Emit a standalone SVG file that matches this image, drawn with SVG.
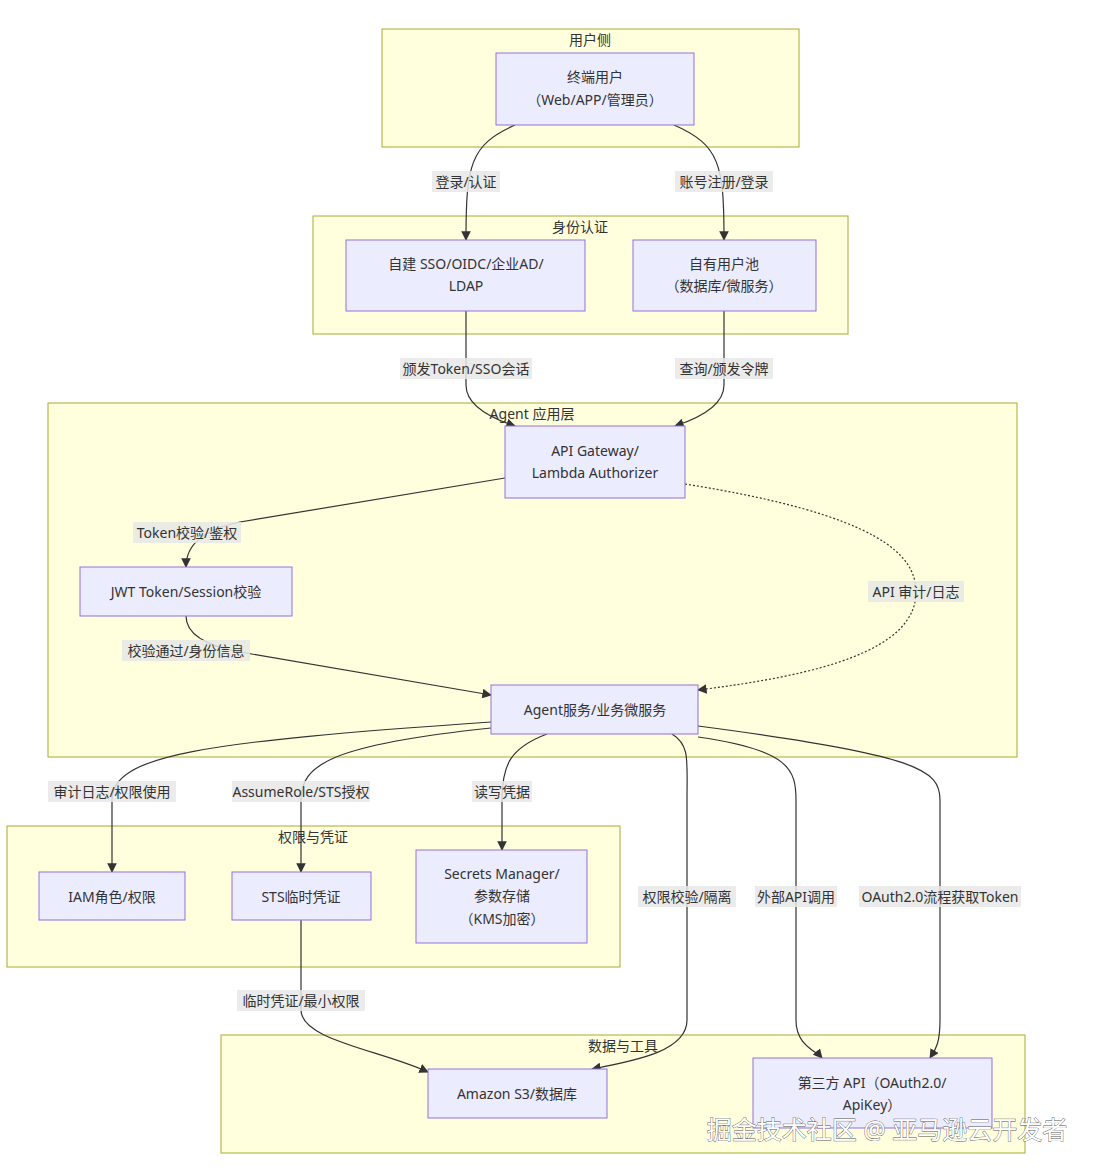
<svg xmlns="http://www.w3.org/2000/svg" width="1098" height="1175" viewBox="0 0 1098 1175">
<defs>
<marker id="ah" viewBox="0 0 10 10" refX="9" refY="5" markerWidth="8" markerHeight="8" orient="auto"><path d="M0,0 L10,5 L0,10 z" fill="#333"/></marker>
<style>
.cl{fill:#ffffde;stroke:#aaaa33;stroke-width:1}
.nd{fill:#ececff;stroke:#9370db;stroke-width:1}
text{font-family:"Noto Sans","Noto Sans CJK SC",sans-serif;font-size:14px;fill:#333;text-anchor:middle}
.e{fill:none;stroke:#333;stroke-width:1.2;marker-end:url(#ah)}
.lb{fill:#e8e8e8;opacity:0.85}
</style>
</defs>
<rect width="1098" height="1175" fill="#fff"/>
<g id="clusters">
<rect class="cl" x="382" y="29" width="417" height="118"/><text x="590" y="45">用户侧</text>
<rect class="cl" x="313" y="216" width="535" height="118"/><text x="580" y="232">身份认证</text>
<rect class="cl" x="48" y="403" width="969" height="354"/><text x="532" y="419">Agent 应用层</text>
<rect class="cl" x="7" y="826" width="613" height="141"/><text x="313" y="842">权限与凭证</text>
<rect class="cl" x="221" y="1035" width="804" height="118"/><text x="623" y="1051">数据与工具</text>
</g>
<g id="connectors">
<path class="e" d="M515,125 C470,145 466,165 466,240"/>
<path class="e" d="M674,125 C720,145 724,165 724,240"/>
<path class="e" d="M466,311 L466,385 Q466,410 515,426"/>
<path class="e" d="M724,311 L724,385 Q724,410 675,426"/>
<path class="e" d="M505,478 L240,522 Q186,533 186,567"/>
<path class="e" d="M186,616 Q186,642 240,652 L491,695"/>
<path class="e" d="M685,484 C880,515 916,555 916,592 C916,650 820,675 698,690" stroke-dasharray="2,2"/>
<path class="e" d="M491,722 C200,742 112,755 112,800 L112,872"/>
<path class="e" d="M491,728 C330,745 301,765 301,800 L301,872"/>
<path class="e" d="M547,734 C510,748 502,765 502,800 L502,850"/>
<path class="e" d="M672,734 C690,745 687,760 687,800 L687,1020 C687,1050 640,1060 592,1069"/>
<path class="e" d="M698,737 C790,750 796,770 796,800 L796,1020 C796,1045 815,1050 822,1058"/>
<path class="e" d="M698,726 C920,755 940,770 940,800 L940,1020 C940,1045 935,1050 930,1058"/>
<path class="e" d="M301,920 L301,1010 C301,1040 380,1050 428,1072"/>
</g>
<g id="labels">
<rect class="lb" x="432" y="171" width="68" height="21"/><text x="466" y="187">登录/认证</text>
<rect class="lb" x="675" y="171" width="98" height="21"/><text x="724" y="187">账号注册/登录</text>
<rect class="lb" x="400" y="358" width="132" height="21"/><text x="466" y="374">颁发Token/SSO会话</text>
<rect class="lb" x="675" y="358" width="98" height="21"/><text x="724" y="374">查询/颁发令牌</text>
<rect class="lb" x="133" y="522" width="108" height="21"/><text x="187" y="538">Token校验/鉴权</text>
<rect class="lb" x="122" y="640" width="128" height="21"/><text x="186" y="656">校验通过/身份信息</text>
<rect class="lb" x="868" y="581" width="96" height="21"/><text x="916" y="597">API 审计/日志</text>
<rect class="lb" x="48" y="781" width="128" height="21"/><text x="112" y="797">审计日志/权限使用</text>
<rect class="lb" x="232" y="781" width="138" height="21"/><text x="301" y="797">AssumeRole/STS授权</text>
<rect class="lb" x="472" y="781" width="60" height="21"/><text x="502" y="797">读写凭据</text>
<rect class="lb" x="638" y="886" width="98" height="21"/><text x="687" y="902">权限校验/隔离</text>
<rect class="lb" x="755" y="886" width="82" height="21"/><text x="796" y="902">外部API调用</text>
<rect class="lb" x="859" y="886" width="162" height="21"/><text x="940" y="902">OAuth2.0流程获取Token</text>
<rect class="lb" x="237" y="990" width="128" height="21"/><text x="301" y="1006">临时凭证/最小权限</text>
</g>
<g id="n_user"><rect class="nd" x="496" y="53" width="198" height="72"/><text x="595" y="82">终端用户</text><text x="595" y="105">（Web/APP/管理员）</text></g>
<g id="n_sso"><rect class="nd" x="346" y="240" width="239" height="71"/><text x="466" y="269">自建 SSO/OIDC/企业AD/</text><text x="466" y="291">LDAP</text></g>
<g id="n_pool"><rect class="nd" x="633" y="240" width="183" height="71"/><text x="724" y="269">自有用户池</text><text x="724" y="291">（数据库/微服务）</text></g>
<g id="n_gw"><rect class="nd" x="505" y="426" width="180" height="72"/><text x="595" y="456">API Gateway/</text><text x="595" y="478">Lambda Authorizer</text></g>
<g id="n_jwt"><rect class="nd" x="80" y="567" width="212" height="49"/><text x="186" y="597">JWT Token/Session校验</text></g>
<g id="n_agent"><rect class="nd" x="491" y="685" width="207" height="49"/><text x="595" y="715">Agent服务/业务微服务</text></g>
<g id="n_iam"><rect class="nd" x="39" y="872" width="146" height="48"/><text x="112" y="902">IAM角色/权限</text></g>
<g id="n_sts"><rect class="nd" x="232" y="872" width="139" height="48"/><text x="301" y="902">STS临时凭证</text></g>
<g id="n_sec"><rect class="nd" x="416" y="850" width="171" height="93"/><text x="502" y="879">Secrets Manager/</text><text x="502" y="901">参数存储</text><text x="502" y="924">（KMS加密）</text></g>
<g id="n_s3"><rect class="nd" x="428" y="1069" width="179" height="49"/><text x="517" y="1099">Amazon S3/数据库</text></g>
<g id="n_3rd"><rect class="nd" x="753" y="1058" width="239" height="70"/><text x="872" y="1088">第三方 API（OAuth2.0/</text><text x="872" y="1110">ApiKey）</text></g>
<text x="887" y="1139" style="font-size:25px;fill:#fff;stroke:#555;stroke-width:0.8;paint-order:stroke">掘金技术社区 @ 亚马逊云开发者</text>
</svg>
